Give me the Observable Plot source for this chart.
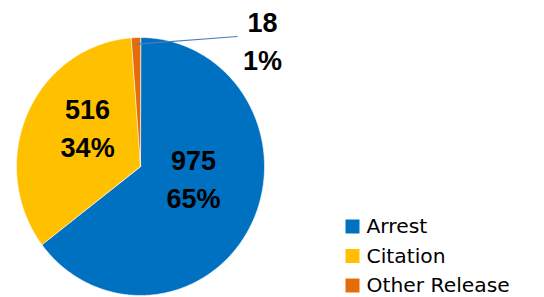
<!DOCTYPE html>
<html><head><meta charset="utf-8">
<script src="https://cdn.jsdelivr.net/npm/d3@7"></script>
<script src="https://cdn.jsdelivr.net/npm/@observablehq/plot@0.6"></script>
<style>body{margin:0;background:#fff}</style>
</head><body><div id="chart"></div>
<script>
const categories = ["Arrest", "Citation", "Other Release"];
const counts = [975, 516, 18];
const percents = ["65%", "34%", "1%"];
const colors = ["#0070C0", "#FFC000", "#E46C0A"];

// layout (pixels)
const W = 544, H = 297, cx = 140, cy = 166, rx = 124, ry = 129;

const arcs = d3.pie().sort(null)(counts);
const polys = [];
arcs.forEach((a, i) => {
  polys.push({cat: categories[i], u: 0, v: 0});
  const n = Math.max(2, Math.ceil((a.endAngle - a.startAngle) / 0.01));
  for (let k = 0; k <= n; k++) {
    const t = a.startAngle + (a.endAngle - a.startAngle) * k / n;
    polys.push({cat: categories[i], u: Math.sin(t), v: Math.cos(t)});
  }
});
const mid = arcs.map(a => (a.startAngle + a.endAngle) / 2);
const labelLayout = [
  {cat: 0, frac: 0.45, dx: 3, dy: -15},
  {cat: 1, frac: 0.6, dx: 15, dy: -9}
];
const labelMarks = labelLayout.map(d => Plot.text(
  [{u: d.frac * Math.sin(mid[d.cat]), v: d.frac * Math.cos(mid[d.cat]),
    text: counts[d.cat] + "\n" + percents[d.cat]}],
  {x: "u", y: "v", text: "text", dx: d.dx, dy: d.dy,
   fontSize: 27, fontWeight: "bold", lineHeight: 1.41, fill: "#000"}));

const small = 2;
const leaderStart = {u: 0.95 * Math.sin(mid[small]) + 0.005, v: 0.95 * Math.cos(mid[small])};
const leaderEnd = {u: (237 - cx) / rx, v: (cy - 36) / ry};
const smallLabel = [{u: leaderEnd.u, v: leaderEnd.v, text: counts[small] + "\n" + percents[small]}];

const legendMarks = categories.flatMap((c, i) => [
  Plot.dot([c], {frameAnchor: "top-left", dx: 352, dy: 226 + 29.5 * i, symbol: "square",
    r: 14 / Math.sqrt(Math.PI), fill: colors[i], stroke: null}),
  Plot.text([c], {frameAnchor: "top-left", dx: 366, dy: 226 + 29.5 * i, text: d => d,
    textAnchor: "start", lineAnchor: "middle", fontSize: 20.3, fill: "#000",
    fontFamily: "DejaVu Sans"})
]);

const chart = Plot.plot({
  width: W, height: H,
  marginLeft: 0, marginRight: 0, marginTop: 0, marginBottom: 0,
  x: {domain: [-cx / rx, (W - cx) / rx], axis: null},
  y: {domain: [-(H - cy) / ry, cy / ry], axis: null},
  color: {domain: categories, range: colors},
  style: {fontFamily: "Liberation Sans, Arial, sans-serif", background: "#fff"},
  marks: [
    Plot.line(polys, {x: "u", y: "v", z: "cat", fill: "cat", stroke: "white",
      strokeWidth: 0.6, curve: "linear-closed"}),
    Plot.link([{x1: leaderStart.u, y1: leaderStart.v, x2: leaderEnd.u, y2: leaderEnd.v}],
      {x1: "x1", y1: "y1", x2: "x2", y2: "y2", stroke: "#4A7EBB", strokeWidth: 1.2}),
    ...labelMarks,
    Plot.text(smallLabel, {x: "u", y: "v", text: "text", dx: 25, dy: 2,
      fontSize: 27, fontWeight: "bold", lineHeight: 1.44, fill: "#000"}),
    ...legendMarks
  ]
});
document.getElementById("chart").append(chart);
</script></body></html>
